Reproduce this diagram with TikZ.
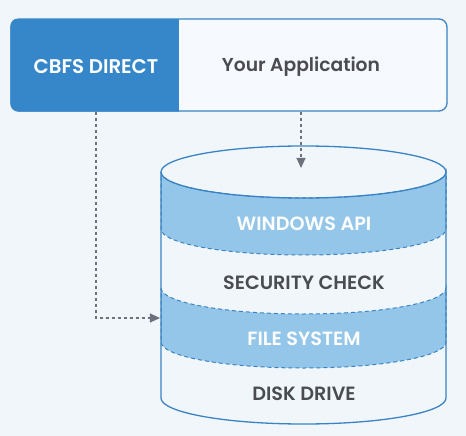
\documentclass[tikz,border=0pt]{standalone}
\usepackage{fontspec}
\setmainfont{Poppins}[BoldFont={Poppins SemiBold}]
\usepackage{tikz}
\usetikzlibrary{positioning, arrows.meta, calc}
\definecolor{bgc}{RGB}{241,246,251}
\definecolor{boxc}{RGB}{246,250,254}
\definecolor{acc}{RGB}{54,135,201}
\definecolor{bandc}{RGB}{147,198,233}
\definecolor{edgec}{RGB}{58,132,197}
\definecolor{txtc}{RGB}{74,76,80}
\definecolor{arrc}{RGB}{110,112,124}
\tikzset{
  flow/.style={-{Triangle[length=3.6mm,width=3.2mm]}, line width=1.3pt, draw=arrc,
    dash pattern=on 3pt off 3pt, arrows={[fill=arrc]}},
  appbox/.style={draw=edgec, line width=1.3pt, rounded corners=8pt, fill=boxc,
    minimum width=436pt, minimum height=92pt, inner sep=0pt},
  toplab/.style={font=\fontsize{18.7}{20}\selectfont\bfseries, inner sep=0pt},
  band/.style={fill=bandc, draw=edgec, line width=1pt, dash pattern=on 4pt off 3pt},
  cyl/.style={draw=edgec, line width=1.3pt},
  laylab/.style={font=\fontsize{19.2}{21}\selectfont\bfseries, inner sep=0pt}
}

\begin{document}
\begin{tikzpicture}[x=1pt, y=1pt]
\useasboundingbox (0,0) rectangle (466,-436);
\fill[bgc] (0,0) rectangle (466,-436);
% ---- top box: CBFS Direct | Your Application ----
\node[appbox] (app) at (229,-65) {};
\begin{scope}
  \clip[rounded corners=8pt] (app.south west) rectangle (app.north east);
  \fill[acc] (app.south west) rectangle (179,-19);
\end{scope}
\node[toplab, text=white, font=\fontsize{19.8}{21}\selectfont\bfseries] (cbfs) at (96,-67) {CBFS DIRECT};
\node[toplab, text=txtc] (yourapp) at (301,-67) {Your Application};
% ---- disk stack (cylinder, rx 142.5, ry 26) ----
\fill[bgc] (161,-172) -- (161,-398)
  arc[start angle=180, end angle=360, x radius=142.5, y radius=26]
  -- (446,-172) arc[start angle=0, end angle=180, x radius=142.5, y radius=26] -- cycle;
\foreach \ya/\yb in {-172/-229, -288/-342}{
  \draw[band] (161,\ya)
    arc[start angle=180, end angle=360, x radius=142.5, y radius=26]
    -- (446,\yb) arc[start angle=360, end angle=180, x radius=142.5, y radius=26]
    -- cycle;}
\draw[cyl] (161,-172) -- (161,-398)
  arc[start angle=180, end angle=360, x radius=142.5, y radius=26] -- (446,-172);
\draw[cyl] (303.5,-172) ellipse[x radius=142.5, y radius=26];
\node[laylab, text=white] (winapi) at (304,-224) {WINDOWS API};
\node[laylab, text=txtc] (secchk) at (304,-283) {SECURITY CHECK};
\node[laylab, text=white] (fsys) at (304,-339) {FILE SYSTEM};
\node[laylab, text=txtc] (disk) at (304,-394) {DISK DRIVE};
% ---- connectors ----
\coordinate (fsin) at (160,-318);
\coordinate (topin) at (301,-168);
\draw[flow] (app.south -| cbfs) |- (fsin);
\draw[flow] (app.south -| yourapp) -- (topin);
\end{tikzpicture}
\end{document}
